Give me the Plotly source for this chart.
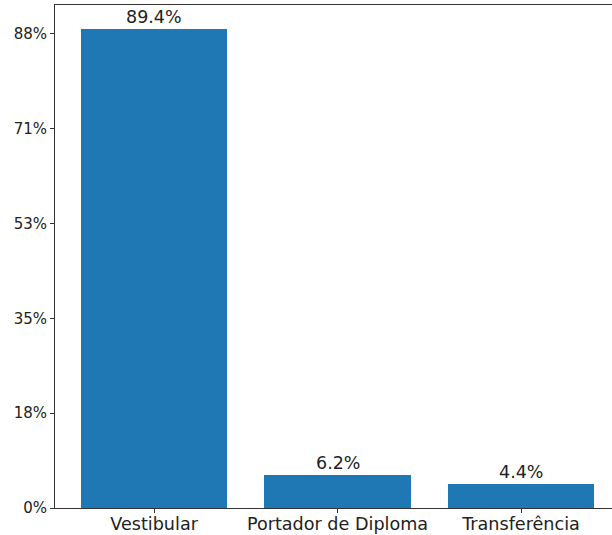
import plotly.graph_objects as go

categories = ["Vestibular", "Portador de Diploma", "Transferência"]
values = [89.4, 6.2, 4.4]
tick_values = [0, 17.7, 35.4, 53.1, 70.8, 88.5]
tick_labels = ["0%", "18%", "35%", "53%", "71%", "88%"]

font_family = "DejaVu Sans"
text_color = "#222222"

fig = go.Figure()
fig.add_trace(go.Bar(
    x=list(range(len(categories))),
    y=values,
    width=0.8,
    marker=dict(color="#1f77b4", line=dict(width=0)),
    showlegend=False,
))

for i, v in enumerate(values):
    fig.add_annotation(
        x=i, y=v, text=f"{v:.1f}%", showarrow=False,
        yanchor="bottom", yshift=0,
        font=dict(family=font_family, size=17.5, color=text_color),
    )

fig.update_layout(
    width=612, height=535,
    margin=dict(l=55, r=0, t=5, b=27, autoexpand=False),
    paper_bgcolor="white", plot_bgcolor="white",
    font=dict(family=font_family, color=text_color),
    bargap=0,
)
fig.update_xaxes(
    range=[-0.54, 2.496],
    tickvals=list(range(len(categories))),
    ticktext=categories,
    tickfont=dict(family=font_family, size=17.6, color=text_color),
    showline=True, linecolor="#333", linewidth=1, mirror=True,
    ticks="outside", ticklen=4, tickcolor="#333",
    ticklabelstandoff=-4,
    showgrid=False, zeroline=False, automargin=False,
)
fig.update_yaxes(
    range=[0, 93.9],
    tickvals=tick_values,
    ticktext=tick_labels,
    tickfont=dict(family=font_family, size=15, color=text_color),
    showline=True, linecolor="#333", linewidth=1, mirror=False,
    ticks="outside", ticklen=4, tickcolor="#333",
    showgrid=False, zeroline=False, automargin=False,
)

fig.write_html(
    "out.html",
    config={"displayModeBar": False},
    post_script="document.body.style.margin='0';document.body.style.overflow='hidden';",
)
